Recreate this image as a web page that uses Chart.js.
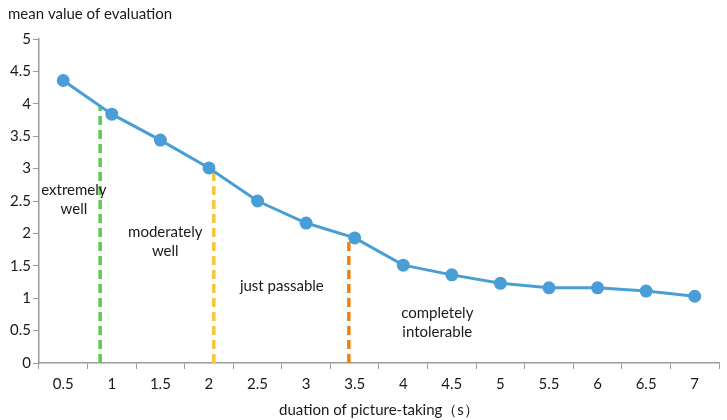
<!DOCTYPE html>
<html>
<head>
<meta charset="utf-8">
<script src="https://cdn.jsdelivr.net/npm/chart.js@4/dist/chart.umd.min.js"></script>
<style>
  html, body { margin: 0; padding: 0; background: #fff; }
  #wrap { width: 727px; height: 420px; position: relative; }
</style>
</head>
<body>
<div id="wrap"><canvas id="chart"></canvas></div>
<script>
// --- DATA ---
const durations = ["0.5", "1", "1.5", "2", "2.5", "3", "3.5", "4", "4.5", "5", "5.5", "6", "6.5", "7"];
const meanValues = [4.36, 3.84, 3.44, 3.01, 2.5, 2.16, 1.93, 1.51, 1.36, 1.23, 1.16, 1.16, 1.11, 1.03];
const yTicks = [0, 0.5, 1, 1.5, 2, 2.5, 3, 3.5, 4, 4.5, 5];

// boundaries between levels: x position (in seconds) and height reached
const boundaryX = [0.88, 2.05, 3.44];
const boundaryTop = [3.97, 2.95, 1.95];
const boundaryColors = ["#5ccb4c", "#fac53c", "#ee7f12"];

// level labels: centre x (seconds), y value of first line
const levelText = [["extremely", "well"], ["moderately", "well"], ["just passable"], ["completely", "intolerable"]];
const levelX = [0.61, 1.55, 2.75, 4.35];
const levelY = [2.67, 2.02, 1.19, 0.77];

const FONT = "Lato, 'Open Sans', sans-serif";
const TXT = "#1a1a1a";

// --- LEVEL LABELS ---
const levelLabels = {
    id: "levelLabels",
    afterDatasetsDraw(chart) {
        const { ctx } = chart, sx = chart.scales.x2, sy = chart.scales.y;
        ctx.save();
        ctx.font = "15px " + FONT;
        ctx.fillStyle = TXT;
        ctx.textAlign = "center";
        ctx.textBaseline = "middle";
        levelText.forEach((lines, i) => lines.forEach((t, j) =>
            ctx.fillText(t, sx.getPixelForValue(levelX[i]), sy.getPixelForValue(levelY[i]) + j * 19)));
        ctx.restore();
    }
};

const boundarySets = boundaryX.map((x, i) => ({
    type: "line", xAxisID: "x2",
    data: [{ x, y: 0 }, { x, y: boundaryTop[i] }],
    borderColor: boundaryColors[i], borderWidth: 3.5, borderDash: [9, 5],
    pointRadius: 0, order: 2
}));

new Chart(document.getElementById("chart"), {
    data: {
        labels: durations,
        datasets: [
            {
                type: "line", data: meanValues,
                borderColor: "#4a9ed6", backgroundColor: "#4a9ed6",
                borderWidth: 3, pointRadius: 5, pointHoverRadius: 5,
                tension: 0, order: 1
            },
            ...boundarySets
        ]
    },
    options: {
        responsive: true, maintainAspectRatio: false, animation: false,
        layout: { padding: { left: 8, right: 7, top: 4, bottom: 1 } },
        plugins: {
            legend: { display: false }, tooltip: { enabled: false },
            title: {
                display: true, text: "mean value of evaluation", align: "start",
                color: TXT, font: { family: FONT, size: 15, weight: "normal" },
                padding: { top: 1, bottom: 16 }
            }
        },
        scales: {
            x: {
                type: "category", offset: true,
                grid: { offset: true, drawOnChartArea: false, color: "#9a9a9a", tickLength: 6 },
                border: { color: "#9a9a9a", width: 1.5 },
                ticks: { color: TXT, font: { family: FONT, size: 15 }, maxRotation: 0, padding: 6 },
                title: { display: true, text: "duation of picture-taking（s）", color: TXT, font: { family: FONT, size: 15 }, padding: { top: 2, bottom: 0 } }
            },
            x2: {
                type: "linear", display: false, min: 0.25, max: 7.25
            },
            y: {
                min: 0, max: 5,
                afterBuildTicks: s => { s.ticks = yTicks.map(v => ({ value: v })); },
                grid: { drawOnChartArea: false, color: "#9a9a9a", tickLength: 6 },
                border: { color: "#9a9a9a", width: 1.5 },
                ticks: { color: TXT, font: { family: FONT, size: 15 }, padding: 2, callback: v => String(v) }
            }
        }
    },
    plugins: [levelLabels]
});
</script>
</body>
</html>
